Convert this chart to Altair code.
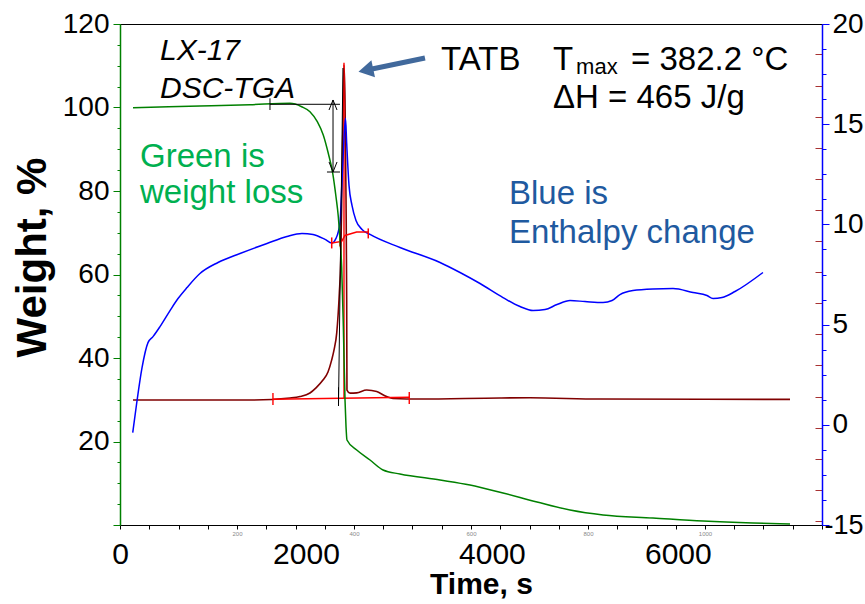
import altair as alt
import pandas as pd

# ---------------- data ----------------
# TGA weight curve (left axis, %)
weight_t = [140, 860, 1398, 1828, 1954, 2043, 2122, 2186, 2240, 2288, 2323, 2348, 2366, 2384,
            2402, 2420, 2431, 2441, 2546, 2689, 2829, 3011, 3442, 3764, 4119, 4485, 4840, 5195,
            5732, 6270, 6808, 7206]
weight_v = [99.95, 100.36, 100.67, 101.0, 100.19, 98.99, 96.6, 93.41, 89.03, 84.24, 78.63, 73.84,
            68.26, 61.87, 47.5, 29.94, 23.47, 20.36, 17.96, 15.57, 13.17, 12.22, 10.78, 9.58, 7.66,
            5.51, 3.59, 2.40, 1.68, 0.96, 0.48, 0.24]

# Enthalpy curve (right axis)
enth_t = [137, 183, 237, 301, 355, 430, 538, 624, 721, 860, 1054, 1291, 1581, 1796, 1957, 2076,
          2205, 2277, 2323, 2366, 2388, 2404, 2425, 2438, 2463, 2495, 2538, 2603, 2689, 3011,
          3442, 3657, 3872, 4119, 4302, 4442, 4571, 4700, 4840, 5001, 5195, 5292, 5377, 5517,
          5732, 5948, 6163, 6313, 6378, 6475, 6614, 6915]
enth_v = [-0.39, 1.2, 2.85, 4.1, 4.4, 4.9, 5.7, 6.3, 6.85, 7.55, 8.1, 8.55, 9.05, 9.4, 9.55, 9.5,
          9.25, 9.07, 9.3, 10.1, 12.2, 13.8, 15.3, 14.05, 11.95, 10.95, 10.2, 9.75, 9.5, 8.85,
          8.1, 7.6, 7.05, 6.35, 5.9, 5.7, 5.75, 6.0, 6.2, 6.15, 6.1, 6.2, 6.5, 6.7,
          6.78, 6.8, 6.6, 6.45, 6.3, 6.35, 6.65, 7.6]

# DSC heat-flow curve (inner right tick axis)
dsc_t = [140, 1398, 1828, 1936, 2043, 2108, 2183, 2237, 2277, 2302, 2331, 2359, 2374, 2388,
         2402, 2409, 2420, 2431, 2438, 2441, 2474, 2546, 2653, 2761, 2868, 2936, 3226, 4087,
         4410, 5162, 7206]
dsc_v = [1.89, 1.89, 1.955, 2.0, 2.115, 2.28, 2.53, 2.79, 3.18, 3.5, 4.05, 5.33, 6.39, 8.96,
         11.54, 12.66, 11.54, 8.32, 5.11, 2.21, 2.11, 2.12, 2.21, 2.16, 2.0, 1.94, 1.92, 1.955,
         1.96, 1.92, 1.91]

# analysis annotations (onset / step / integration lines)
black_segments = {
    "onset":   [(1613, 100.77), (2366, 100.77)],
    "tickA":   [(1613, 102.2), (1613, 99.4)],
    "step":    [(2291, 101.8), (2291, 84.55)],
    "chevTop": [(2248, 99.4), (2291, 101.8), (2334, 99.4)],
    "chevBot": [(2248, 86.95), (2291, 84.55), (2334, 86.95)],
    "low":     [(2226, 84.55), (2366, 84.55)],
    "tangent": [(2350, 28.98), (2398, 109.46)],
    "tickB":   [(2350, 33.0), (2350, 28.5)],
}
red_dsc_segments = {
    "base":  [(1645, 1.913), (3111, 1.977)],
    "tickL": [(1645, 2.115), (1645, 1.729)],
    "tickR": [(3111, 2.147), (3111, 1.761)],
    "peak":  [(2409, 12.73), (2409, 1.92)],
}
red_enth_segments = {
    "ibase": [(2277, 9.07), (2384, 9.15), (2420, 9.45), (2545, 9.62), (2670, 9.62)],
    "tA":    [(2277, 9.35), (2277, 8.8)],
    "tB":    [(2670, 9.8), (2670, 9.3)],
    "tC":    [(2366, 9.4), (2366, 8.9)],
}
arrow_shaft = [(3280, 111.86), (2710, 109.22)]
arrow_head = [(2644, 108.93)]

# text annotations (time, weight-scale position)
txt_italic = ["LX-17", "DSC-TGA"]
txt_italic_t = [430, 430]
txt_italic_v = [111.38, 102.28]

txt_black = ["TATB", "T", "= 382.2 °C", "ΔH = 465 J/g", "max"]
txt_black_t = [3452, 4657, 5496, 4657, 4905]
txt_black_v = [108.98, 108.98, 108.98, 99.88, 108.14]
txt_black_size = [33, 33, 33, 33, 22]

txt_green = ["Green is", "weight loss"]
txt_green_t = [215, 215]
txt_green_v = [85.75, 77.13]

txt_blue = ["Blue is", "Enthalpy change"]
txt_blue_t = [4184, 4184]
txt_blue_v = [76.89, 67.54]

# axes
T_MAX = 7550
W_DOM = [0, 120]
E_DOM = [-5, 20]
D_DOM = [-2.13, 13.98]
time_labels = ["0", "2000", "4000", "6000"]
temp_labels = ["", "200", "400", "600", "800", "1000", ""]

FONT = "Liberation Sans"

# ---------------- build ----------------
step = T_MAX / 24.0
grid_vals = [round(i * step, 4) for i in range(25)]
big_vals = [int(s) for s in time_labels]
x_vals = sorted(set(grid_vals + big_vals))
big_test = " || ".join(f"datum.value == {v}" for v in big_vals)
tick_hide = " || ".join(f"datum.value == {v}" for v in big_vals if v != 0)
temp_arr = "[" + ",".join(f"'{s}'" for s in temp_labels) + "]"
x_label_expr = (f"({big_test}) ? datum.label : "
                f"(round(datum.value/{step}) % 4 == 0 ? {temp_arr}[round(datum.value/{step})/4] : '')")

X = alt.X(
    "t:Q",
    scale=alt.Scale(domain=[0, T_MAX], nice=False, zero=False),
    axis=alt.Axis(
        values=x_vals, format="d", labelExpr=x_label_expr,
        labelFontSize={"condition": {"test": big_test, "value": 30}, "value": 6},
        labelPadding={"condition": {"test": big_test, "value": 10}, "value": 1},
        labelColor={"condition": {"test": big_test, "value": "black"}, "value": "#8a8a8a"},
        tickOpacity={"condition": {"test": tick_hide, "value": 0}, "value": 1},
        tickSize=4, tickColor="black", domainColor="black", domainWidth=1.2,
        labelOverlap=False, labelFlush=False, labelBound=False,
        title="Time, s", titleFontSize=30, titleFontWeight="bold",
        titleX=361, titleY=68, titleBaseline="alphabetic", titleAlign="center",
        grid=False,
    ),
)


def yscale(dom):
    return alt.Scale(domain=dom, nice=False, zero=False)


def seg_df(segs):
    rows = []
    for name, pts in segs.items():
        for i, (t, v) in enumerate(pts):
            rows.append({"seg": name, "i": i, "t": t, "v": v})
    return pd.DataFrame(rows)


w_axis = alt.Axis(
    orient="left", values=list(range(0, 121, 5)),
    labelExpr="datum.value % 20 == 0 && datum.value > 0 ? datum.label : ''",
    tickSize={"condition": {"test": "datum.value % 20 == 0", "value": 7}, "value": 3},
    domainColor="#008000", tickColor="#008000", domainWidth=1.5,
    labelFontSize=28, labelPadding=4, labelColor="black",
    title="Weight, %", titleFontSize=42, titleFontWeight="bold",
    titleX=-75, titleY=233, titleAngle=270, titleAlign="center", titleBaseline="alphabetic",
    grid=False,
)
e_vals = [20 - 1.25 * k for k in range(21)]
e_axis = alt.Axis(
    orient="right", values=e_vals,
    labelExpr="datum.value == -5 ? '-15' : (datum.value % 5 == 0 ? datum.label : '')",
    tickSize={"condition": {"test": "datum.value % 5 == 0", "value": 7}, "value": 4},
    labelFontSize={"condition": {"test": "datum.value == -5", "value": 27}, "value": 28},
    labelPadding={"condition": {"test": "datum.value == -5", "value": -5}, "value": 3},
    domainColor="#0000ff", tickColor="#0000ff", domainWidth=1.5,
    labelColor="black", title=None, grid=False,
)
d_axis = alt.Axis(
    orient="right", values=list(range(-2, 14)), labels=False, domain=False,
    tickColor="#a83232", tickSize=7, offset=-7, title=None, grid=False,
)

wdf = pd.DataFrame({"t": weight_t, "v": weight_v})
edf = pd.DataFrame({"t": enth_t, "v": enth_v})
ddf = pd.DataFrame({"t": dsc_t, "v": dsc_v})

dsc_line = alt.Chart(ddf).mark_line(color="#800000", strokeWidth=1.6, interpolate="monotone").encode(
    x=X, y=alt.Y("v:Q", scale=yscale(D_DOM), axis=d_axis))
red_dsc = alt.Chart(seg_df(red_dsc_segments)).mark_line(color="#ff0000", strokeWidth=1.4).encode(
    x=X, y=alt.Y("v:Q", scale=yscale(D_DOM), axis=None), detail="seg:N", order="i:Q")
enth_line = alt.Chart(edf).mark_line(color="#0000ff", strokeWidth=1.5, interpolate="monotone").encode(
    x=X, y=alt.Y("v:Q", scale=yscale(E_DOM), axis=e_axis))
red_enth = alt.Chart(seg_df(red_enth_segments)).mark_line(color="#ff0000", strokeWidth=1.5).encode(
    x=X, y=alt.Y("v:Q", scale=yscale(E_DOM), axis=None), detail="seg:N", order="i:Q")
weight_line = alt.Chart(wdf).mark_line(color="#008000", strokeWidth=1.5, interpolate="monotone").encode(
    x=X, y=alt.Y("v:Q", scale=yscale(W_DOM), axis=w_axis))
black_ann = alt.Chart(seg_df(black_segments)).mark_line(color="black", strokeWidth=1).encode(
    x=X, y=alt.Y("v:Q", scale=yscale(W_DOM), axis=None), detail="seg:N", order="i:Q")

shaft = alt.Chart(pd.DataFrame(arrow_shaft, columns=["t", "v"])).mark_line(
    color="#41699c", strokeWidth=5).encode(
    x=X, y=alt.Y("v:Q", scale=yscale(W_DOM), axis=None))
head = alt.Chart(pd.DataFrame(arrow_head, columns=["t", "v"])).mark_point(
    shape="triangle-left", filled=True, size=300, angle=348, color="#41699c", opacity=1).encode(
    x=X, y=alt.Y("v:Q", scale=yscale(W_DOM), axis=None))


def text_layer(texts, ts, vs, color, size, style="normal", sizes=None):
    df = pd.DataFrame({"t": ts, "v": vs, "txt": texts,
                       "fs": sizes if sizes is not None else [size] * len(texts)})
    return alt.Chart(df).mark_text(
        align="left", baseline="alphabetic", font=FONT, fontStyle=style, color=color).encode(
        x=X, y=alt.Y("v:Q", scale=yscale(W_DOM), axis=None), text="txt:N",
        size=alt.Size("fs:Q", scale=None, legend=None))


t_italic = text_layer(txt_italic, txt_italic_t, txt_italic_v, "black", 30, style="italic")
t_black = text_layer(txt_black, txt_black_t, txt_black_v, "black", 33, sizes=txt_black_size)
t_green = text_layer(txt_green, txt_green_t, txt_green_v, "#00b050", 33)
t_blue = text_layer(txt_blue, txt_blue_t, txt_blue_v, "#1f5aa0", 33)

chart = alt.layer(
    dsc_line, red_dsc, enth_line, red_enth, weight_line, black_ann,
    shaft, head, t_italic, t_black, t_green, t_blue,
).resolve_scale(y="independent").properties(
    width=702, height=501,
    autosize=alt.AutoSizeParams(type="none"),
    padding={"left": 120, "top": 24, "right": 43, "bottom": 79},
    background="white",
).configure_view(stroke="black", strokeWidth=1).configure_axis(
    labelFont=FONT, titleFont=FONT, grid=False
).configure_text(font=FONT)

chart.save("out.html", embed_options={"renderer": "svg", "actions": False})
